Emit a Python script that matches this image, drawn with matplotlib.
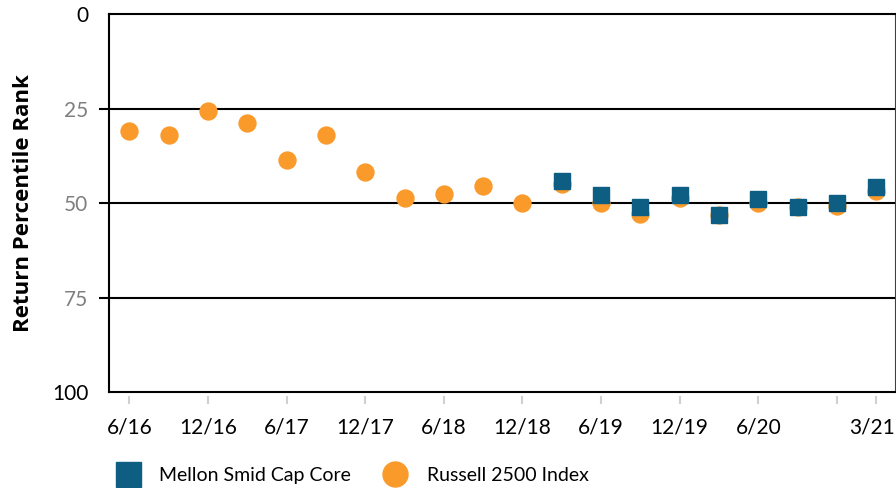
import numpy as np
import matplotlib
matplotlib.use("Agg")
import matplotlib.pyplot as plt
from matplotlib.lines import Line2D
import matplotlib.transforms as mtransforms

plt.rcParams['font.family'] = ['Lato', 'DejaVu Sans']

# quarter ends, June 2016 .. March 2021
quarters = ['6/16', '9/16', '12/16', '3/17', '6/17', '9/17', '12/17', '3/18',
            '6/18', '9/18', '12/18', '3/19', '6/19', '9/19', '12/19', '3/20',
            '6/20', '9/20', '12/20', '3/21']

# return percentile rank (lower is better)
russell = [31.0, 32.0, 25.6, 28.8, 38.7, 32.0, 41.9, 48.8, 47.7, 45.6,
           49.9, 45.1, 49.9, 53.0, 48.8, 53.1, 49.9, 51.0, 50.9, 46.7]
mellon = [np.nan] * 11 + [44.1, 47.8, 51.0, 47.8, 53.1, 48.9, 51.0, 49.9, 45.8]

tick_quarters = ['6/16', '12/16', '6/17', '12/17', '6/18', '12/18',
                 '6/19', '12/19', '6/20', '12/20', '3/21']
tick_labels = ['6/16', '12/16', '6/17', '12/17', '6/18', '12/18',
               '6/19', '12/19', '6/20', '', '3/21']

y_ticks = [0, 25, 50, 75, 100]

navy = '#0d5e82'
orange = '#f99a2b'
grey = '#7f7f7f'

fig = plt.figure(figsize=(8.96, 4.88), dpi=100)
ax = fig.add_axes([0.1217, 0.1967, 0.8772, 0.7746])

x = np.arange(len(quarters))
ax.plot(x, russell, 'o', color=orange, markersize=12.2, zorder=3)
ax.plot(x, mellon, 's', color=navy, markersize=12, zorder=4)

ax.set_xlim(-0.52, 19.48)
ax.set_ylim(100, 0)

# reference lines
for v in y_ticks[1:-1]:
    ax.axhline(v, color='black', lw=1.5, zorder=1)

for side in ['left', 'top', 'bottom']:
    ax.spines[side].set_linewidth(1.5)
ax.spines['right'].set_linewidth(0.8)
ax.spines['right'].set_color('#404040')

# y axis
ax.set_yticks(y_ticks)
ax.set_yticklabels([str(v) for v in y_ticks], fontsize=15)
ax.tick_params(axis='y', length=7, width=1.5, pad=8)
for tick, v in zip(ax.yaxis.get_major_ticks(), y_ticks):
    if v in (0, 100):
        tick.tick1line.set_visible(False)
    else:
        tick.label1.set_color(grey)
ax.set_ylabel('Return Percentile Rank', fontsize=16, fontweight='bold',
              family=['Open Sans', 'DejaVu Sans'], labelpad=13)

# x axis: labels below, short grey ticks detached from the spine
tick_pos = [quarters.index(q) for q in tick_quarters]
ax.set_xticks(tick_pos)
ax.set_xticklabels(tick_labels, fontsize=15)
ax.tick_params(axis='x', length=0, pad=18)
# pull the last label in a little so it stays inside the figure
last = ax.get_xticklabels()[-1]
last.set_transform(last.get_transform() +
                   mtransforms.ScaledTranslation(-4 / 100, 0, fig.dpi_scale_trans))
trans = mtransforms.blended_transform_factory(ax.transData, ax.transAxes)
ax.vlines(tick_pos, -0.01, -0.032, transform=trans, color='#d0d0d0',
          lw=1.5, clip_on=False)

handles = [
    Line2D([], [], marker='s', ls='none', color=navy, markersize=18),
    Line2D([], [], marker='o', ls='none', color=orange, markersize=18),
]
fig.legend(handles, ['Mellon Smid Cap Core', 'Russell 2500 Index'],
           loc='center left', bbox_to_anchor=(0.123, 0.025), ncol=2,
           frameon=False, fontsize=14, handlelength=1.0, handletextpad=1.1,
           columnspacing=1.8, borderaxespad=0)

fig.savefig('out.png', dpi=100)
